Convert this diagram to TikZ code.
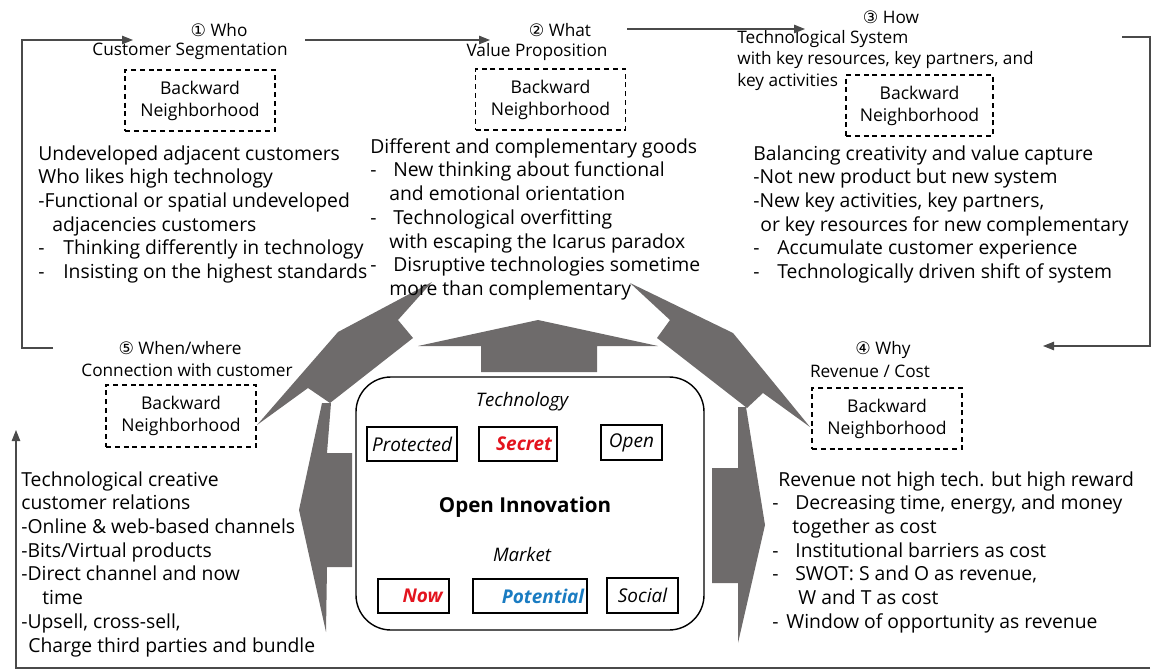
\documentclass[tikz,border=0pt]{standalone}
\usepackage{fontspec}
\setmainfont{Open Sans}
\newfontfamily\circfont{DejaVu Sans}
\usetikzlibrary{arrows.meta, positioning}
\definecolor{blockgray}{HTML}{6E6B6B}
\definecolor{flowink}{HTML}{4A4A4A}
\definecolor{hotred}{HTML}{E3141E}
\definecolor{coolblue}{HTML}{1A7CC2}
\newcommand{\dsh}[1]{\makebox[#1][l]{-}}

\begin{document}
\begin{tikzpicture}[
  x=0.2mm, y=-0.2mm,
  body/.style={anchor=north west, align=left, inner sep=0pt, font=\fontsize{11}{13.5}\selectfont},
  head/.style={inner sep=0pt, font=\fontsize{9.8}{12}\selectfont},
  headl/.style={head, anchor=north west, align=left, font=\fontsize{9.8}{12.2}\selectfont},
  nbhd/.style={draw, dashed, dash pattern=on 1mm off 0.75mm, line width=0.7pt, minimum width=30mm,
               minimum height=12.2mm, align=center, inner sep=0pt, font=\fontsize{10}{12.5}\selectfont},
  cell/.style={draw, line width=0.7pt, minimum height=6.8mm, inner sep=0pt, font=\fontsize{10.8}{12}\selectfont\itshape},
  hotcell/.style={cell, font=\fontsize{10.8}{12}\selectfont\bfseries\itshape},
  flow/.style={-{Triangle[length=2.2mm,width=1.7mm]}, line width=0.6pt, color=flowink},
  blk/.style={fill=blockgray}
]
\useasboundingbox (0,0) rectangle (1152,671);

% gray block arrows round the core
\fill[blk] (481,372) -- (481,346) -- (418,346) -- (538,320) -- (658,346) -- (597,346) -- (597,372) -- cycle;
\fill[blk] (432,282) -- (398,320) -- (413,338) -- (330,403) -- (308,388) -- (257,425) -- (338,332) -- cycle;
\fill[blk] (322,403) -- (299,510) -- (326,632) -- (327,567) -- (352,567) -- (352,453) -- (327,453) -- (331,403) -- cycle;
\fill[blk] (630,283) -- (733,333) -- (810,427) -- (763,393) -- (747,408) -- (657,338) -- (670,320) -- cycle;
\fill[blk] (738,407) -- (746,407) -- (765,525) -- (738,643) -- (738,583) -- (712,583) -- (712,468) -- (738,468) -- cycle;

% core
\node[draw, line width=0.8pt, rounded corners=7mm, minimum width=69.6mm, minimum height=50.6mm] (core) at (530,503.5) {};
\node[font=\fontsize{10.6}{12}\selectfont\itshape] (tech) at (522,402) {Technology};
\node[cell, minimum width=18mm] (prot) at (412,444) {Protected};
\node[hotcell, minimum width=15.6mm, text=hotred] (secr) at (518,444) {\hspace*{2.4mm}Secret};
\node[cell, minimum width=12.2mm, minimum height=7mm] (open) at (631.5,442.5) {Open};
\node[font=\fontsize{11.7}{13}\selectfont\bfseries] (oi) at (525,507) {Open Innovation};
\node[font=\fontsize{10.6}{12}\selectfont\itshape] (mkt) at (522,555) {Market};
\node[hotcell, minimum width=14.2mm, text=hotred] (now) at (413.5,596) {\hspace*{3.6mm}Now};
\node[hotcell, minimum width=22.8mm, text=coolblue] (pot) at (530,596) {\hspace*{5.2mm}Potential};
\node[cell, minimum width=14.2mm, minimum height=7mm] (soc) at (642.5,595.5) {Social};

% 1 who
\node[head] (who) at (219,30) {{\circfont ①} Who};
\node[head] (seg) at (190,51) {Customer Segmentation};
\node[nbhd] (nb1) at (200,100.5) {Backward\\Neighborhood};
\node[body] (txt1) at (38,145) {Undeveloped adjacent customers\\Who likes high technology\\-Functional or spatial undeveloped\\\hspace*{2.8mm}adjacencies customers\\\dsh{5mm}Thinking differently in technology\\\dsh{5mm}Insisting on the highest standards};

% 2 what
\node[head] (what) at (560,30) {{\circfont ②} What};
\node[head] (val) at (537,52) {Value Proposition};
\node[nbhd] (nb2) at (550.5,99.5) {Backward\\Neighborhood};
\node[body] (txt2) at (370,138) {Different and complementary goods\\\dsh{4.6mm}New thinking about functional\\\hspace*{3.8mm}and emotional orientation\\\dsh{4.6mm}Technological overfitting\\\hspace*{3.8mm}with escaping the Icarus paradox\\\dsh{4.6mm}Disruptive technologies sometime\\\hspace*{3.8mm}more than complementary};

% 3 how
\node[head] (how) at (891,17) {{\circfont ③} How};
\node[headl] (sys) at (737,30) {Technological System\\with key resources, key partners, and\\key activities};
\node[nbhd, minimum width=29.4mm] (nb3) at (919.5,105.5) {Backward\\Neighborhood};
\node[body] (txt3) at (753,145) {Balancing creativity and value capture\\-Not new product but new system\\-New key activities, key partners,\\\hspace*{1.4mm}or key resources for new complementary\\\dsh{4.8mm}Accumulate customer experience\\\dsh{4.8mm}Technologically driven shift of system};

% 4 why
\node[head] (why) at (883,350) {{\circfont ④} Why};
\node[head] (rev) at (870,371) {Revenue / Cost};
\node[nbhd] (nb4) at (887,418.5) {Backward\\Neighborhood};
\node[body] (txt4) at (772,471) {\hspace*{1.2mm}Revenue not high tech. but high reward\\\dsh{4.6mm}Decreasing time, energy, and money\\\hspace*{4mm}together as cost\\\dsh{4.6mm}Institutional barriers as cost\\\dsh{4.6mm}SWOT: S and O as revenue,\\\hspace*{5.2mm}W and T as cost\\\dsh{2.8mm}Window of opportunity as revenue};

% 5 when/where
\node[head] (when) at (180,348) {{\circfont ⑤} When/where};
\node[head] (conn) at (187,370) {Connection with customer};
\node[nbhd, minimum height=12.4mm] (nb5) at (181,416) {Backward\\Neighborhood};
\node[body] (txt5) at (21,471) {Technological creative\\customer relations\\-Online \& web-based channels\\-Bits/Virtual products\\-Direct channel and now\\\hspace*{4.2mm}time\\-Upsell, cross-sell,\\\hspace*{1.4mm}Charge third parties and bundle};

% cycle of connectors
\coordinate (s5) at (53,348);
\coordinate (lc) at (22,348);
\coordinate (e1) at (133,40);
\coordinate (s1) at (305,40);
\coordinate (e2) at (490,40);
\coordinate (s2) at (627,29);
\coordinate (e3) at (805,29);
\coordinate (s3) at (1122,37);
\coordinate (rc) at (1150,37);
\coordinate (e4) at (1043,346);
\coordinate (s4) at (1150,668);
\coordinate (e5) at (16,430);

\draw[flow] (s5) -- (lc) |- (e1);
\draw[flow] (s1) -- (e2);
\draw[flow] (s2) -- (e3);
\draw[flow] (s3) -- (rc) |- (e4);
\draw[flow] (s4) -| (e5);
\end{tikzpicture}
\end{document}
